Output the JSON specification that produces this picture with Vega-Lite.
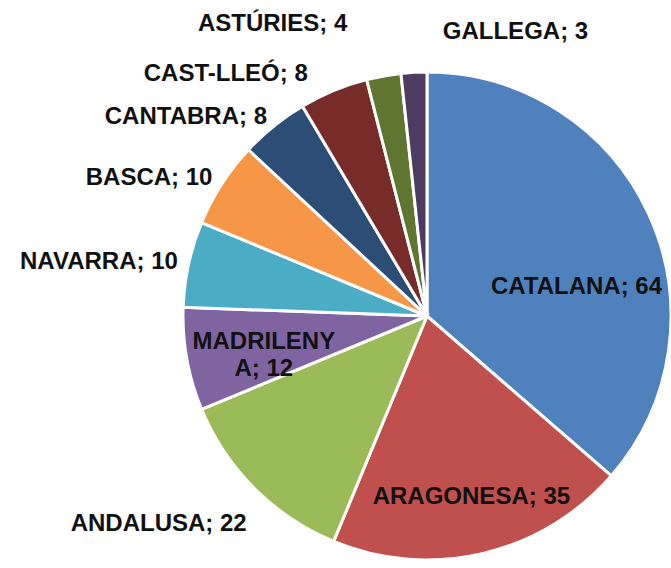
{
  "$schema": "https://vega.github.io/schema/vega-lite/v6.json",
  "autosize": {"type": "none"},
  "width": 488,
  "height": 488,
  "padding": {"left": 183, "top": 72, "right": 0, "bottom": 8},
  "background": "white",
  "config": {"view": {"stroke": null}, "text": {"font": "Liberation Sans", "fontWeight": "bold", "fontSize": 24, "fill": "#111111"}},
  "data": {"values": [
    {"region": "CATALANA", "value": 64, "label": "CATALANA; 64"},
    {"region": "ARAGONESA", "value": 35, "label": "ARAGONESA; 35"},
    {"region": "ANDALUSA", "value": 22, "label": "ANDALUSA; 22"},
    {"region": "MADRILENYA", "value": 12, "label": "MADRILENY\nA; 12"},
    {"region": "NAVARRA", "value": 10, "label": "NAVARRA; 10"},
    {"region": "BASCA", "value": 10, "label": "BASCA; 10"},
    {"region": "CANTABRA", "value": 8, "label": "CANTABRA; 8"},
    {"region": "CAST-LLEÓ", "value": 8, "label": "CAST-LLEÓ; 8"},
    {"region": "ASTÚRIES", "value": 4, "label": "ASTÚRIES; 4"},
    {"region": "GALLEGA", "value": 3, "label": "GALLEGA; 3"}
  ]},
  "encoding": {
    "theta": {"field": "value", "type": "quantitative", "stack": true},
    "order": {"field": "value", "type": "quantitative", "sort": "descending"}
  },
  "layer": [
    {
      "mark": {"type": "arc", "stroke": "white", "strokeWidth": 3},
      "encoding": {
        "color": {"field": "region", "type": "nominal", "legend": null,
          "scale": {"domain": ["CATALANA","ARAGONESA","ANDALUSA","MADRILENYA","NAVARRA","BASCA","CANTABRA","CAST-LLEÓ","ASTÚRIES","GALLEGA"],
                    "range": ["#4F81BD","#C0504D","#9BBB59","#8064A2","#4BACC6","#F79646","#2C4D75","#772C2A","#5F7530","#4D3B62"]}}
      }
    },
    {
      "mark": {"type": "text", "radius": 180, "align": "center", "baseline": "middle", "dx": 3, "dy": 6},
      "encoding": {"text": {"condition": {"test": "datum.region === 'ARAGONESA'", "field": "label"}, "value": ""}}
    },
    {
      "mark": {"type": "text", "radius": 180, "align": "center", "baseline": "middle", "lineBreak": "\n", "lineHeight": 27, "dx": 14, "dy": -6},
      "encoding": {"text": {"condition": {"test": "datum.region === 'MADRILENYA'", "field": "label"}, "value": ""}}
    },
    {
      "mark": {"type": "text", "radius": 150, "align": "center", "baseline": "middle", "dx": 13, "dy": 33},
      "encoding": {"text": {"condition": {"test": "datum.region === 'CATALANA'", "field": "label"}, "value": ""}}
    },
    {
      "mark": {"type": "text", "radius": 255, "align": "right", "baseline": "middle"},
      "encoding": {"text": {"condition": {"test": "indexof(['NAVARRA','BASCA','CANTABRA'], datum.region) >= 0", "field": "label"}, "value": ""}}
    },
    {
      "mark": {"type": "text", "radius": 255, "align": "right", "baseline": "middle", "dy": 28},
      "encoding": {"text": {"condition": {"test": "datum.region === 'ANDALUSA'", "field": "label"}, "value": ""}}
    },
    {
      "mark": {"type": "text", "radius": 262, "align": "right", "baseline": "middle", "dx": -19},
      "encoding": {"text": {"condition": {"test": "datum.region === 'CAST-LLEÓ'", "field": "label"}, "value": ""}}
    },
    {
      "mark": {"type": "text", "radius": 297, "align": "right", "baseline": "middle", "dx": -27},
      "encoding": {"text": {"condition": {"test": "datum.region === 'ASTÚRIES'", "field": "label"}, "value": ""}}
    },
    {
      "mark": {"type": "text", "radius": 284, "align": "left", "baseline": "middle", "dx": 31},
      "encoding": {"text": {"condition": {"test": "datum.region === 'GALLEGA'", "field": "label"}, "value": ""}}
    }
  ]
}
